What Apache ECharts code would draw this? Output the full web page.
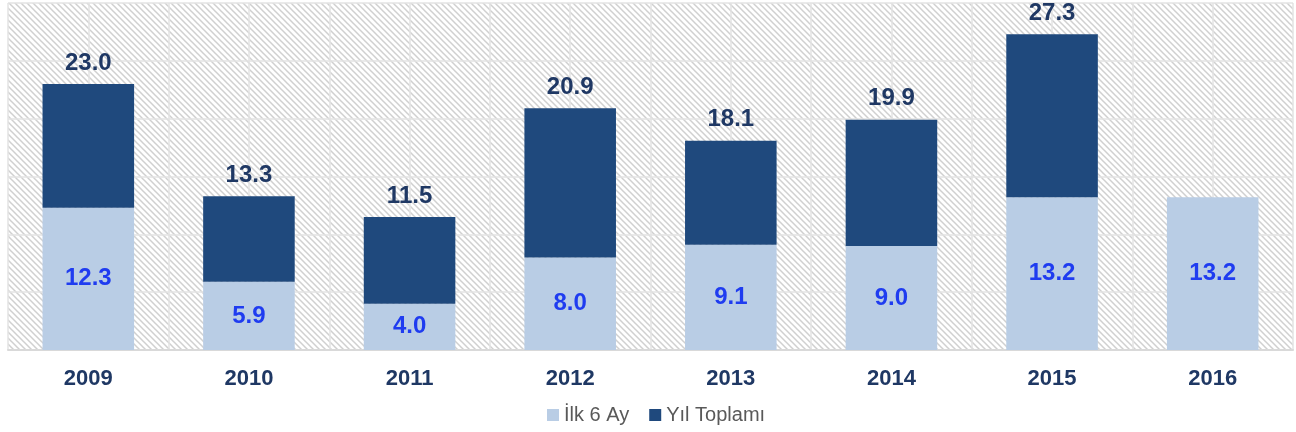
<!DOCTYPE html>
<html>
<head>
<meta charset="utf-8">
<script src="https://cdn.jsdelivr.net/npm/echarts@6/dist/echarts.min.js"></script>
<style>
  html, body { margin: 0; padding: 0; background: #ffffff; }
  #chart { width: 1296px; height: 432px; }
</style>
</head>
<body>
<div id="chart"></div>
<script>
// Years on the category axis
var years = ['2009', '2010', '2011', '2012', '2013', '2014', '2015', '2016'];
// First six months of each year
var firstHalf = [12.3, 5.9, 4.0, 8.0, 9.1, 9.0, 13.2, 13.2];
// Full-year totals (2016 not yet complete)
var yearTotal = [23.0, 13.3, 11.5, 20.9, 18.1, 19.9, 27.3, null];
// Value axis ticks
var valueTicks = [0, 5, 10, 15, 20, 25, 30];

// Remainder of the year stacked on top of the first half
var secondPart = yearTotal.map(function (t, i) {
  return t == null ? null : +(t - firstHalf[i]).toFixed(1);
});

// Diagonal hatch used as the plot background
function hatchPattern() {
  var c = document.createElement('canvas');
  c.width = 6; c.height = 6;
  var g = c.getContext('2d');
  g.fillStyle = '#ffffff';
  g.fillRect(0, 0, 6, 6);
  g.strokeStyle = '#d0d0d0';
  g.lineWidth = 1.5;
  g.beginPath();
  g.moveTo(-1, -1); g.lineTo(7, 7);
  g.moveTo(-1, 5); g.lineTo(1, 7);
  g.moveTo(5, -1); g.lineTo(7, 1);
  g.stroke();
  return c;
}

var chart = echarts.init(document.getElementById('chart'), null, { renderer: 'canvas' });
var font = '"Liberation Sans", Arial, sans-serif';

chart.setOption({
  animation: false,
  textStyle: { fontFamily: font },
  grid: {
    left: 8, right: 3, top: 3, bottom: 82,
    show: true,
    borderWidth: 0,
    backgroundColor: { image: hatchPattern(), repeat: 'repeat' }
  },
  legend: {
    bottom: 7,
    left: 547,
    padding: 0,
    itemWidth: 12, itemHeight: 12, itemGap: 20,
    icon: 'rect',
    textStyle: { fontSize: 20, color: '#595959', fontFamily: font },
    data: ['İlk 6 Ay', 'Yıl Toplamı']
  },
  xAxis: [
    {
      type: 'category',
      data: years,
      axisTick: { show: false },
      axisLine: { show: true, lineStyle: { color: '#d9d9d9', width: 2 } },
      axisLabel: { fontSize: 22, fontWeight: 'bold', color: '#1f3864', margin: 18, fontFamily: font },
      splitLine: { show: false }
    },
    {
      // half-category vertical grid lines
      type: 'value',
      min: 0, max: years.length, interval: 0.5,
      show: true,
      position: 'bottom',
      axisLine: { show: false }, axisTick: { show: false }, axisLabel: { show: false },
      splitLine: { show: true, lineStyle: { color: '#e3e3e3', width: 1.5 } }
    }
  ],
  yAxis: {
    type: 'value',
    min: valueTicks[0],
    max: valueTicks[valueTicks.length - 1],
    interval: valueTicks[1] - valueTicks[0],
    axisLabel: { show: false },
    axisLine: { show: false },
    axisTick: { show: false },
    splitLine: { show: true, lineStyle: { color: '#e3e3e3', width: 1.5 } }
  },
  series: [
    {
      name: 'İlk 6 Ay',
      type: 'bar',
      stack: 'year',
      xAxisIndex: 0,
      barWidth: '57%',
      data: firstHalf,
      itemStyle: { color: '#b9cde5' },
      label: {
        show: true,
        position: 'inside',
        formatter: function (p) { return p.value.toFixed(1); },
        fontSize: 24, fontWeight: 'bold', color: '#1f3cf0', fontFamily: font
      }
    },
    {
      name: 'Yıl Toplamı',
      type: 'bar',
      stack: 'year',
      xAxisIndex: 0,
      barWidth: '57%',
      data: secondPart,
      itemStyle: { color: '#1f497d' },
      label: {
        show: true,
        position: 'top',
        distance: 9,
        formatter: function (p) { return yearTotal[p.dataIndex].toFixed(1); },
        fontSize: 24, fontWeight: 'bold', color: '#1f3864', fontFamily: font
      }
    }
  ]
});
</script>
</body>
</html>
